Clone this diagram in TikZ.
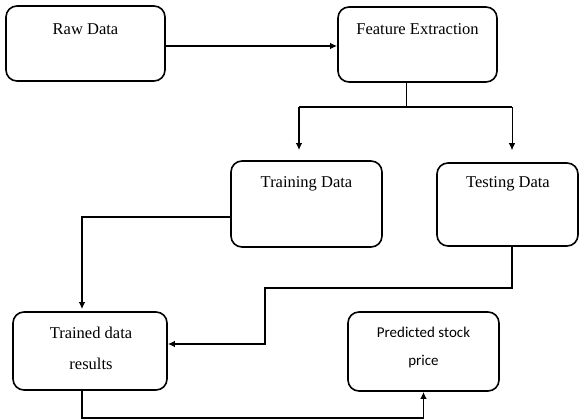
\documentclass[tikz,border=0pt]{standalone}
\usepackage{fontspec}
\setmainfont{Liberation Serif}
\newfontfamily\calib{Carlito}
\usetikzlibrary{arrows.meta}
\tikzset{
  box/.style={draw, line width=1.6pt, rounded corners=11pt, inner sep=0pt},
  lbl/.style={font=\fontsize{16.5}{18}\selectfont, inner sep=0pt},
  slbl/.style={font=\calib\fontsize{15}{17}\selectfont, inner sep=0pt},
  conn/.style={line width=1.4pt},
  thin/.style={line width=0.9pt},
  arr/.style={line width=1.4pt, -{Latex[length=7pt,width=6.5pt]}},
  tarr/.style={line width=0.9pt, -{Latex[length=7pt,width=6.5pt]}}
}
\begin{document}
\begin{tikzpicture}[x=1pt,y=-1pt]
\useasboundingbox[fill=white] (0,0) rectangle (579,420);

% boxes
\node[box, minimum width=159pt, minimum height=75pt] (raw) at (85.5,43.5) {};
\node[box, minimum width=159pt, minimum height=75pt] (fe) at (417.5,44.5) {};
\node[box, minimum width=151pt, minimum height=86pt] (train) at (306.5,204) {};
\node[box, minimum width=141pt, minimum height=83pt] (test) at (507.5,204.5) {};
\node[box, minimum width=154pt, minimum height=78pt] (trained) at (90,351) {};
\node[box, minimum width=151pt, minimum height=79pt] (pred) at (423.5,351.5) {};

% labels
\node[lbl] (rawt) at (85.5,29) {Raw Data};
\node[lbl] (fet) at (417.5,29) {Feature Extraction};
\node[lbl] (traint) at (306.5,184) {Training Data};
\node[lbl] (testt) at (508,184) {Testing Data};
\node[lbl] (trainedt1) at (91,333) {Trained data};
\node[lbl] (trainedt2) at (91,364) {results};
\node[slbl] (predt1) at (423.5,332) {Predicted stock};
\node[slbl] (predt2) at (423.5,362) {price};

% elbow points of the connectors
\coordinate (split) at (406,107);
\coordinate (lt) at (299,107);
\coordinate (rt) at (512,107);
\coordinate (c1) at (82,217);
\coordinate (c2) at (265,288);
\coordinate (c3) at (265,344);
\coordinate (c4) at (82,418);

% connectors
\draw[arr] ([yshift=-2.5pt]raw.east) -- ([yshift=-1.5pt]fe.west);
\draw[thin] (fe.south -| split) -- (split);
\draw[conn] (lt) -- (rt);
\draw[arr, shorten >=10pt] (lt) -- (train.north -| lt);
\draw[tarr, shorten >=12pt] (rt) -- (test.north -| rt);
\draw[arr] (train.west |- c1) -- (c1) -- ([yshift=2pt]trained.north -| c1);
\draw[arr] (test.south -| rt) |- (c2) -- (c3) -- (trained.east |- c3);
\draw[arr] (trained.south -| c4) -- (c4) -| (pred.south);
\end{tikzpicture}
\end{document}
